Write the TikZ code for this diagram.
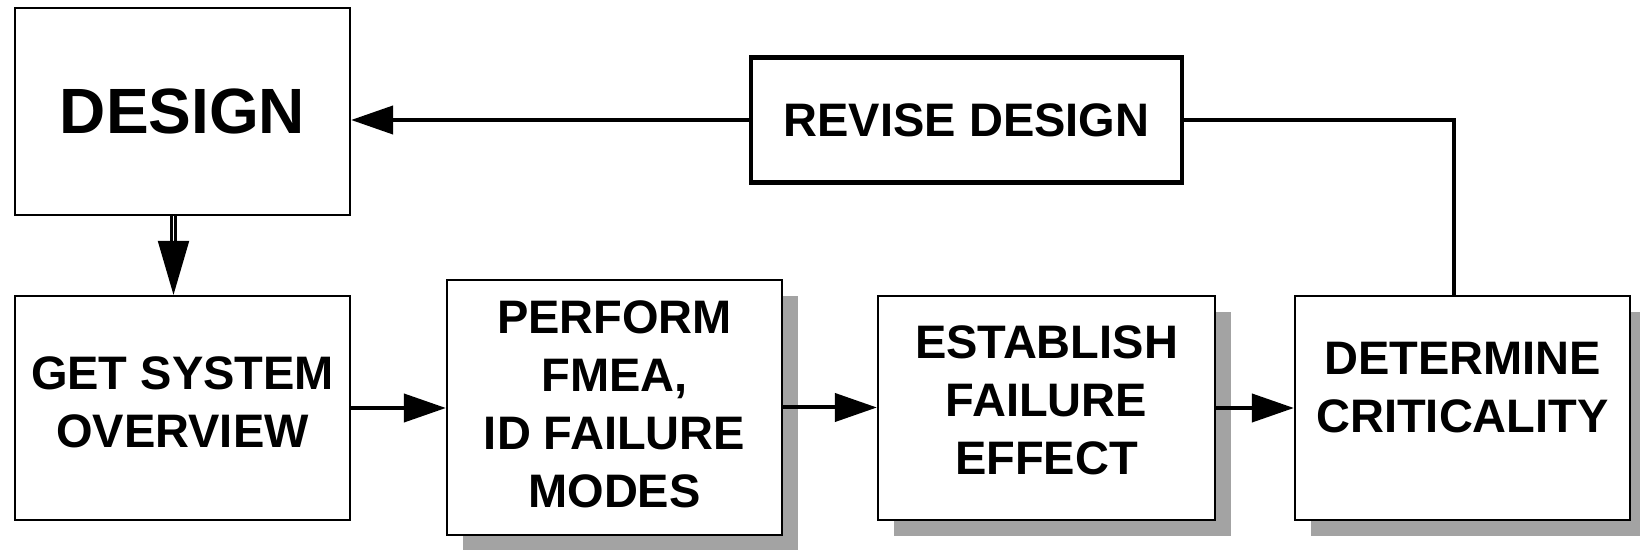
\documentclass[tikz,border=0pt]{standalone}
\usepackage{fontspec}
\setmainfont{Liberation Sans}
\usetikzlibrary{arrows.meta,shadows,calc}
\definecolor{shadowgray}{RGB}{163,163,163}
\begin{document}
\begin{tikzpicture}[x=0.5pt,y=-0.5pt,
  box/.style={draw=black, line width=1.1pt, fill=white, rectangle, inner sep=0pt, align=center,
    font=\bfseries\fontsize{23.5}{29}\selectfont},
  shadowed/.style={drop shadow={shadow xshift=8pt, shadow yshift=-8pt, fill=shadowgray, opacity=1}},
  txt/.style={inner sep=0pt, align=center, font=\bfseries\fontsize{23.5}{29}\selectfont},
  conn/.style={line width=2pt},
  arr/.style={conn, -{Triangle[length=21pt,width=14pt]}},
  dbl/.style={double, line width=1.3pt, double distance=0.9pt},
  downarr/.style={line width=1pt, -{Triangle[length=27pt,width=15.5pt]}},
]
\useasboundingbox (0,0) rectangle (1640,550);

\node[box, minimum width=167.5pt, minimum height=103.5pt,
      font=\bfseries\fontsize{32}{38}\selectfont] (design) at (182.5,111.5) {DESIGN};
\node[box, line width=2.2pt, minimum width=215.5pt, minimum height=62.5pt] (revise) at (966.5,120) {REVISE DESIGN};

\node[box, minimum width=167.5pt, minimum height=112pt] (get) at (182.5,408) {};
\node[txt] (getT) at ([yshift=3pt]get.center) {GET SYSTEM\\OVERVIEW};

\node[box, shadowed, minimum width=167.5pt, minimum height=127.5pt] (perf) at (614.5,407.5) {};
\node[txt] (perfT) at ([yshift=1.5pt]perf.center) {PERFORM\\FMEA,\\ID FAILURE\\MODES};

\node[box, shadowed, minimum width=168.5pt, minimum height=112pt] (est) at (1046.5,408) {};
\node[txt] (estT) at ([yshift=4pt]est.center) {ESTABLISH\\FAILURE\\EFFECT};

\node[box, shadowed, minimum width=167.5pt, minimum height=112pt] (det) at (1462.5,408) {};
\node[txt] (detT) at ([yshift=10pt]det.center) {DETERMINE\\CRITICALITY};

\draw[arr] (get.east) -- (get.east -| perf.west);
\draw[arr] (perf.east) -- (perf.east -| est.west);
\draw[arr] (est.east) -- (est.east -| det.west);

\coordinate (detup) at ($(det.north)+(-9,0)$);
\draw[conn] (detup) |- (revise.east);
\draw[arr] (revise.west) -- (revise.west -| design.east);

\coordinate (dstart) at ($(design.south)+(-9,0)$);
\coordinate (dmid) at ($(dstart)+(0,25)$);
\draw[dbl] (dstart) -- (dmid);
\draw[downarr] (dmid) -- (dmid |- get.north);
\end{tikzpicture}
\end{document}
